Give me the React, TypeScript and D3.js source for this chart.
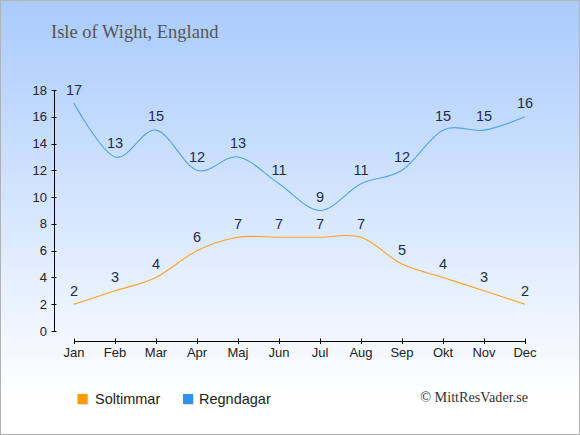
import React from "react";
import * as d3 from "d3";

const months = ["Jan", "Feb", "Mar", "Apr", "Maj", "Jun", "Jul", "Aug", "Sep", "Okt", "Nov", "Dec"];
const sunHours = [2, 3, 4, 6, 7, 7, 7, 7, 5, 4, 3, 2];
const rainDays = [17, 13, 15, 12, 13, 11, 9, 11, 12, 15, 15, 16];
const yTicks = [0, 2, 4, 6, 8, 10, 12, 14, 16, 18];
const title = "Isle of Wight, England";
const legendLabels = ["Soltimmar", "Regndagar"];
const credit = "© MittResVader.se";

const W = 580;
const H = 435;
const SUN = "#ffa126";
const RAIN = "#4ea4ee";
const SUN_LEG = "#ff9a00";
const RAIN_LEG = "#2f91ea";
const LABEL = "#1e2c4a";

export default function App() {
  const x = d3.scalePoint<string>().domain(months).range([74, 525]);
  const y = d3.scaleLinear().domain([0, 18]).range([331, 90]);
  const line = d3
    .line<number>()
    .x((_, i) => x(months[i]) as number)
    .y((d) => y(d))
    .curve(d3.curveCardinal.tension(0));

  const sans = "Arial, 'Liberation Sans', sans-serif";
  const serif = "'Liberation Serif', 'Times New Roman', serif";
  const axisX = 54.5;
  const axisY = 341.5;

  return (
    <div style={{ position: "absolute", left: 0, top: 0, width: W, height: H }}>
      <svg width={W} height={H} viewBox={`0 0 ${W} ${H}`} style={{ display: "block" }}>
        <defs>
          <linearGradient id="bg" x1="0" y1="0" x2="0" y2="1">
            <stop offset="0%" stopColor="#a9cbfd" />
            <stop offset="92%" stopColor="#ffffff" />
            <stop offset="100%" stopColor="#ffffff" />
          </linearGradient>
        </defs>
        <rect x={0.5} y={0.5} width={W - 1} height={H - 1} fill="url(#bg)" stroke="#b2b2b2" strokeWidth={1} />

        <text x={51} y={38} fontFamily={serif} fontSize={18.5} fill="#555555">
          {title}
        </text>

        {/* Y axis */}
        <line x1={axisX} x2={axisX} y1={y(18)} y2={y(0)} stroke="#000" strokeWidth={1} />
        {yTicks.map((t) => (
          <g key={t}>
            <line x1={51.5} x2={56.5} y1={Math.round(y(t)) + 0.5} y2={Math.round(y(t)) + 0.5} stroke="#000" strokeWidth={1} />
            <text x={47} y={y(t)} dy="0.35em" textAnchor="end" fontFamily={sans} fontSize={13} fill="#222">
              {t}
            </text>
          </g>
        ))}

        {/* X axis */}
        <line x1={x(months[0])} x2={x(months[11])} y1={axisY} y2={axisY} stroke="#000" strokeWidth={1} />
        {months.map((m) => (
          <g key={m}>
            <line
              x1={Math.round(x(m) as number) + 0.5}
              x2={Math.round(x(m) as number) + 0.5}
              y1={338.5}
              y2={344}
              stroke="#000"
              strokeWidth={1}
            />
            <text x={x(m)} y={357} textAnchor="middle" fontFamily={sans} fontSize={13} fill="#222">
              {m}
            </text>
          </g>
        ))}

        {/* Lines */}
        <path d={line(rainDays) || ""} fill="none" stroke={RAIN} strokeWidth={1.1} />
        <path d={line(sunHours) || ""} fill="none" stroke={SUN} strokeWidth={1.1} />

        {/* Data labels */}
        {rainDays.map((v, i) => (
          <text key={"r" + i} x={x(months[i])} y={y(v) - 8.7} textAnchor="middle" fontFamily={sans} fontSize={14.5} fill={LABEL}>
            {v}
          </text>
        ))}
        {sunHours.map((v, i) => (
          <text key={"s" + i} x={x(months[i])} y={y(v) - 8.7} textAnchor="middle" fontFamily={sans} fontSize={14.5} fill={LABEL}>
            {v}
          </text>
        ))}

        {/* Legend */}
        <rect x={78.5} y={395} width={10} height={10} fill="#c9c9c9" opacity={0.6} />
        <rect x={77.5} y={394} width={10} height={10} fill={SUN_LEG} />
        <text x={95} y={404} fontFamily={sans} fontSize={14.5} fill="#222">
          {legendLabels[0]}
        </text>
        <rect x={184} y={395} width={10} height={10} fill="#c9c9c9" opacity={0.6} />
        <rect x={183} y={394} width={10} height={10} fill={RAIN_LEG} />
        <text x={199} y={404} fontFamily={sans} fontSize={14.5} fill="#222">
          {legendLabels[1]}
        </text>

        <text x={528} y={402} textAnchor="end" fontFamily={serif} fontSize={14.2} fill="#333">
          {credit}
        </text>
      </svg>
    </div>
  );
}
